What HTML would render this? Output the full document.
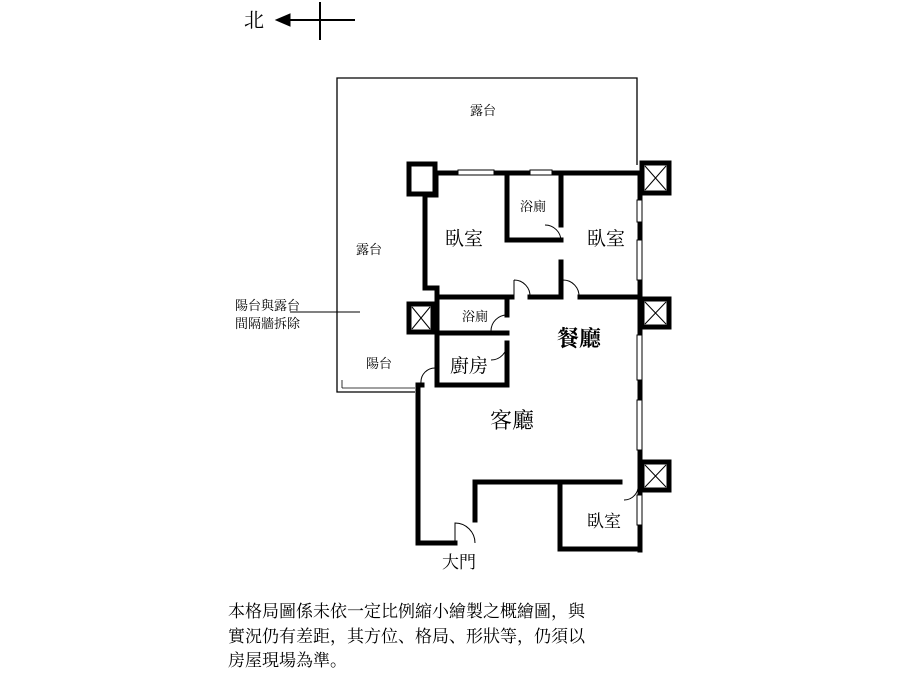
<!DOCTYPE html>
<html><head><meta charset="utf-8"><style>
body{margin:0;background:#fff;width:900px;height:675px;overflow:hidden}
svg{position:absolute;left:0;top:0}
text{font-family:"Liberation Serif","Noto Serif CJK SC","Noto Sans CJK TC",serif;fill:#000}
</style></head><body>
<svg width="900" height="675" viewBox="0 0 900 675">
<g stroke="#000" fill="none">
<line x1="278" y1="20" x2="355" y2="20" stroke-width="2"/>
<line x1="320" y1="2" x2="320" y2="40" stroke-width="2"/>
<polygon points="276,20 290,14 290,26" fill="#000"/>
<polyline points="637,165 637,78 337,78 337,392 415,392" stroke-width="1.3"/>
<line x1="342" y1="388" x2="415" y2="388" stroke-width="0.8"/>
<line x1="342" y1="380" x2="342" y2="388" stroke-width="0.8"/>
<line x1="290" y1="312" x2="360" y2="312" stroke-width="1"/>
</g>
<g stroke="#000" stroke-width="5" fill="none" stroke-linecap="square">
<line x1="436" y1="173" x2="640" y2="173"/>
<polyline points="436,173 436,195 425,195 425,288 437,288 437,385"/>
<polyline points="507,173 507,240 561,240"/>
<line x1="561" y1="173" x2="561" y2="225"/>
<line x1="561" y1="262" x2="561" y2="297"/>
<line x1="437" y1="297" x2="512" y2="297"/>
<line x1="530" y1="297" x2="561" y2="297"/>
<line x1="580" y1="297" x2="640" y2="297"/>
<line x1="640" y1="173" x2="640" y2="550"/>
<line x1="437" y1="333" x2="507" y2="333"/>
<line x1="507" y1="297" x2="507" y2="315"/>
<line x1="507" y1="343" x2="507" y2="385"/>
<line x1="418" y1="385" x2="422" y2="385"/>
<line x1="437" y1="385" x2="507" y2="385"/>
<polyline points="418,385 418,543 455,543"/>
<polyline points="475,520 475,482 560,482"/>
<line x1="560" y1="482" x2="620" y2="482"/>
<polyline points="560,482 560,549 640,549"/>
</g>
<g stroke="#000" stroke-width="5" fill="#fff">
<rect x="409" y="164" width="26" height="30" fill="none"/>
<rect x="642" y="163" width="27" height="30"/>
<rect x="642" y="299" width="27" height="28"/>
<rect x="642" y="462" width="27" height="28"/>
<rect x="409" y="304" width="24" height="28"/>
</g>
<g stroke="#000" stroke-width="1" fill="none">
<path d="M645 166 L666 190 M666 166 L645 190 M645 302 L666 324 M666 302 L645 324 M645 465 L666 487 M666 465 L645 487 M412 307 L430 329 M430 307 L412 329"/>
<path d="M545 225 A16 16 0 0 1 561 241 M545 241 L561 241"/>
<path d="M514 280 L514 297 M514 280 A16 16 0 0 1 530 297"/>
<path d="M563 280 L563 297 M563 280 A16 16 0 0 1 579 297"/>
<path d="M507 315 A16 16 0 0 0 491 331 M507 343 A16 16 0 0 1 491 360"/>
<path d="M421 383 A14 14 0 0 1 436 368"/>
<path d="M455 543 L455 523 A20 20 0 0 1 475 543"/>
<path d="M638 484 A14 14 0 0 1 624 500"/>
<rect x="458" y="170" width="36" height="5" fill="#fff"/>
<rect x="530" y="170" width="22" height="5" fill="#fff"/>
<rect x="637" y="200" width="5" height="22" fill="#fff"/>
<rect x="637" y="240" width="5" height="40" fill="#fff"/>
<rect x="637" y="335" width="5" height="45" fill="#fff"/>
<rect x="637" y="400" width="5" height="50" fill="#fff"/>
<rect x="637" y="495" width="5" height="30" fill="#fff"/>
</g>
<g font-size="13">
<text x="244" y="27" font-size="20">北</text>
<text x="470" y="115">露台</text>
<text x="356" y="254">露台</text>
<text x="235" y="310">陽台與露台</text>
<text x="235" y="328">間隔牆拆除</text>
<text x="366" y="368">陽台</text>
<text x="520" y="211">浴廁</text>
<text x="462" y="321">浴廁</text>
<text x="445" y="245" font-size="19">臥室</text>
<text x="587" y="245" font-size="19">臥室</text>
<text x="587" y="527" font-size="17">臥室</text>
<text x="450" y="372" font-size="19">廚房</text>
<text x="557" y="346" font-size="22" font-weight="bold">餐廳</text>
<text x="490" y="428" font-size="22">客廳</text>
<text x="442" y="568" font-size="17">大門</text>
</g>
<g font-size="17">
<text x="228" y="617">本格局圖係未依一定比例縮小繪製之概繪圖，與</text>
<text x="228" y="642">實況仍有差距，其方位、格局、形狀等，仍須以</text>
<text x="228" y="666">房屋現場為準。</text>
</g>
</svg>
</body></html>
